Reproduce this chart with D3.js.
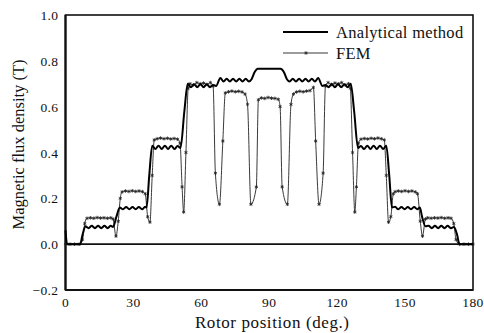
<!DOCTYPE html>
<html>
<head>
<meta charset="utf-8">
<script src="https://cdn.jsdelivr.net/npm/d3@7"></script>
<style>
  body { margin: 0; background: #fff; }
  text { font-family: "Liberation Serif", "Times New Roman", serif; fill: #111; }
</style>
</head>
<body>
<svg id="chart" width="484" height="333"></svg>
<script>
    'use strict';

    // Tick labels
    var xTicks = [0, 30, 60, 90, 120, 150, 180];
    var yTicks = [-0.2, 0.0, 0.2, 0.4, 0.6, 0.8, 1.0];

    // Analytical method (rotor position deg., flux density T)
    var analyticalDeg = [
        0, 0.7, 3, 6.5, 7.5, 8.8, 10.2, 11.6, 13, 14.4, 15.8, 17.2, 18.6, 20, 21,
        22.5, 24, 25.4, 26.8, 28.2, 29.6, 31, 32.4, 33.8, 35.2, 35.8,
        37, 38.3, 39.7, 41.1, 42.5, 43.9, 45.3, 46.7, 48.1, 49.5, 50.8,
        52.5, 54, 55.4, 56.8, 58.2, 59.6, 61, 62.4, 63.8, 65.2,
        66.5, 68.4, 69.8, 71.2, 72.6, 74, 75.4, 76.8, 78.2, 79.6, 81, 82.2,
        83.5, 85, 95, 96.5,
        97.8, 99, 100.4, 101.8, 103.2, 104.6, 106, 107.4, 108.8, 110.2, 111.6,
        113.5, 114.8, 116.2, 117.6, 119, 120.4, 121.8, 123.2, 124.6, 126,
        127.5, 129.2, 130.5, 131.9, 133.3, 134.7, 136.1, 137.5, 138.9, 140.3, 141.7,
        143, 144.2, 145.6, 147, 148.4, 149.8, 151.2, 152.6, 154, 155.4, 156.5,
        157.5, 159, 160.4, 161.8, 163.2, 164.6, 166, 167.4, 168.8, 170.2, 171.6,
        173, 174, 177, 180
    ];
    var analyticalVal = [
        0.06, 0.0, 0.0, 0.0, 0.04, 0.078, 0.07, 0.08, 0.07, 0.08, 0.07, 0.08, 0.07, 0.08, 0.075,
        0.12, 0.16, 0.152, 0.162, 0.152, 0.162, 0.152, 0.162, 0.152, 0.163, 0.16,
        0.30, 0.43, 0.415, 0.43, 0.415, 0.43, 0.415, 0.43, 0.415, 0.428, 0.42,
        0.58, 0.70, 0.685, 0.698, 0.685, 0.698, 0.685, 0.698, 0.685, 0.695,
        0.69, 0.725, 0.71, 0.722, 0.71, 0.722, 0.71, 0.722, 0.71, 0.722, 0.71, 0.72,
        0.75, 0.765, 0.765, 0.75,
        0.72, 0.71, 0.722, 0.71, 0.722, 0.71, 0.722, 0.71, 0.722, 0.71, 0.725,
        0.69, 0.695, 0.685, 0.698, 0.685, 0.698, 0.685, 0.698, 0.685, 0.70,
        0.58, 0.42, 0.428, 0.415, 0.43, 0.415, 0.43, 0.415, 0.43, 0.415, 0.43,
        0.30, 0.16, 0.163, 0.152, 0.162, 0.152, 0.162, 0.152, 0.162, 0.152, 0.16,
        0.12, 0.078, 0.08, 0.07, 0.08, 0.07, 0.08, 0.07, 0.08, 0.07, 0.075,
        0.04, 0.0, 0.0, 0.0
    ];

    // FEM (rotor position deg., flux density T)
    var femDeg = [
        0, 2, 4, 6, 7.5, 8.5, 9.5, 11, 12.5, 14, 15.5, 17, 18.5, 20, 21,
        22.3, 23.3, 24.2, 25, 26.5, 28, 29.5, 31, 32.5, 34, 35.2,
        36.3, 37.3, 38.3, 39.2, 40.5, 42, 43.5, 45, 46.5, 48, 49.5, 50.6,
        51.5, 52.2, 53.2, 54.2, 55, 56.5, 58, 59.5, 61, 62.5, 64, 65.2,
        66.2, 68, 69.5, 70.6, 72, 73.5, 75, 76.5, 78, 79.3, 80.4,
        81.9, 84.3, 85.2, 86.5, 88, 89.5, 91, 92.5, 94, 94.8,
        95.7, 98, 99.6, 100.7, 102, 103.5, 105, 106.5, 108, 109.5,
        110.5, 112, 113.8, 114.8, 116, 117.5, 119, 120.5, 122, 123.5, 125, 125.8,
        126.8, 127.8, 128.5, 129.4, 130.5, 132, 133.5, 135, 136.5, 138, 139.5, 140.8,
        141.7, 142.7, 143.7, 144.8, 145.6, 147, 148.5, 150, 151.5, 153, 154.5, 155.5,
        156.7, 157.7, 159, 160, 161.5, 163, 164.5, 166, 167.5, 169, 170.3,
        171.5, 172.5, 174, 176, 178, 180
    ];
    var femVal = [
        0, 0, 0, 0, 0.02, 0.09, 0.113, 0.115, 0.113, 0.116, 0.114, 0.115, 0.113, 0.115, 0.11,
        0.035, 0.10, 0.20, 0.228, 0.232, 0.23, 0.233, 0.23, 0.232, 0.229, 0.22,
        0.12, 0.096, 0.30, 0.455, 0.46, 0.463, 0.46, 0.462, 0.459, 0.461, 0.458, 0.44,
        0.25, 0.14, 0.40, 0.68, 0.70, 0.695, 0.705, 0.70, 0.703, 0.697, 0.705, 0.69,
        0.31, 0.174, 0.45, 0.66, 0.665, 0.668, 0.665, 0.667, 0.664, 0.655, 0.61,
        0.174, 0.25, 0.63, 0.638, 0.636, 0.64, 0.637, 0.636, 0.632, 0.60,
        0.25, 0.174, 0.61, 0.655, 0.664, 0.667, 0.665, 0.668, 0.67, 0.684,
        0.45, 0.174, 0.31, 0.69, 0.705, 0.697, 0.703, 0.70, 0.705, 0.695, 0.70, 0.68,
        0.40, 0.14, 0.25, 0.44, 0.458, 0.461, 0.459, 0.462, 0.46, 0.463, 0.46, 0.455,
        0.30, 0.096, 0.12, 0.22, 0.229, 0.232, 0.23, 0.233, 0.23, 0.232, 0.228, 0.22,
        0.10, 0.035, 0.11, 0.115, 0.113, 0.115, 0.114, 0.116, 0.113, 0.115, 0.113,
        0.09, 0.02, 0, 0, 0, 0
    ];

    var svg = d3.select('#chart');
    var margin = {left: 65.5, right: 11, top: 15, bottom: 43};
    var W = 484, H = 333;

    var x = d3.scaleLinear()
        .domain([0, 180])
        .range([margin.left, W - margin.right]);
    var y = d3.scaleLinear()
        .domain([-0.2, 1.0])
        .range([H - margin.bottom, margin.top]);

    var analytical = analyticalDeg.map((d, i) => [d, analyticalVal[i]]);
    var fem = femDeg.map((d, i) => [d, femVal[i]]);

    // Frame
    svg.append('rect')
        .attr('x', x(0))
        .attr('y', y(1.0))
        .attr('width', x(180) - x(0))
        .attr('height', y(-0.2) - y(1.0))
        .attr('fill', 'none')
        .attr('stroke', '#111')
        .attr('stroke-width', 1.6);
    // heavier left and bottom axes
    svg.append('line')
        .attr('x1', x(0)).attr('x2', x(0))
        .attr('y1', y(1.0)).attr('y2', y(-0.2))
        .attr('stroke', '#111').attr('stroke-width', 2.2);
    svg.append('line')
        .attr('x1', x(0)).attr('x2', x(180))
        .attr('y1', y(-0.2)).attr('y2', y(-0.2))
        .attr('stroke', '#111').attr('stroke-width', 2.2);
    // zero line
    svg.append('line')
        .attr('x1', x(0)).attr('x2', x(180))
        .attr('y1', y(0)).attr('y2', y(0))
        .attr('stroke', '#111').attr('stroke-width', 1.6);

    // Tick labels
    svg.append('g')
        .selectAll('text')
        .data(yTicks)
        .join('text')
        .attr('x', x(0) - 7)
        .attr('y', d => y(d) + 5)
        .attr('text-anchor', 'end')
        .attr('font-size', 13.5)
        .attr('letter-spacing', 0.4)
        .text(d => d3.format('.1f')(d));

    svg.append('g')
        .selectAll('text')
        .data(xTicks)
        .join('text')
        .attr('x', d => x(d))
        .attr('y', y(-0.2) + 17)
        .attr('text-anchor', 'middle')
        .attr('font-size', 13.5)
        .attr('letter-spacing', 0.4)
        .text(d => d);

    // Axis titles
    svg.append('text')
        .attr('x', x(90) + 3)
        .attr('y', 328)
        .attr('text-anchor', 'middle')
        .attr('font-size', 17)
        .attr('letter-spacing', 0.6)
        .text('Rotor position (deg.)');

    svg.append('text')
        .attr('transform', `translate(24, ${y(0.4) - 8}) rotate(-90)`)
        .attr('text-anchor', 'middle')
        .attr('font-size', 16.5)
        .text('Magnetic flux density (T)');

    // Series
    var line = d3.line()
        .x(d => x(d[0]))
        .y(d => y(d[1]));

    svg.append('path')
        .datum(fem)
        .attr('fill', 'none')
        .attr('stroke', '#222')
        .attr('stroke-width', 0.9)
        .attr('d', line.curve(d3.curveMonotoneX));

    var star = d3.symbol().type(d3.symbolAsterisk || d3.symbolCross).size(9);
    svg.append('g')
        .selectAll('path')
        .data(fem)
        .join('path')
        .attr('transform', d => `translate(${x(d[0])}, ${y(d[1])})`)
        .attr('d', star)
        .attr('fill', 'none')
        .attr('stroke', '#222')
        .attr('stroke-width', 0.8);

    svg.append('path')
        .datum(analytical)
        .attr('fill', 'none')
        .attr('stroke', '#000')
        .attr('stroke-width', 2)
        .attr('stroke-linejoin', 'round')
        .attr('d', line.curve(d3.curveMonotoneX));

    // Legend
    var legend = svg.append('g');
    legend.append('line')
        .attr('x1', 283).attr('x2', 328)
        .attr('y1', 32).attr('y2', 32)
        .attr('stroke', '#000').attr('stroke-width', 2);
    legend.append('text')
        .attr('x', 336).attr('y', 37.5)
        .attr('font-size', 16.5)
        .attr('letter-spacing', 0.3)
        .text('Analytical method');
    legend.append('line')
        .attr('x1', 283).attr('x2', 328)
        .attr('y1', 53).attr('y2', 53)
        .attr('stroke', '#222').attr('stroke-width', 0.9);
    legend.append('path')
        .attr('transform', 'translate(306, 53)')
        .attr('d', star)
        .attr('fill', 'none')
        .attr('stroke', '#222')
        .attr('stroke-width', 0.8);
    legend.append('text')
        .attr('x', 336).attr('y', 58.5)
        .attr('font-size', 16.5)
        .attr('letter-spacing', 0.3)
        .text('FEM');
</script>
</body>
</html>
